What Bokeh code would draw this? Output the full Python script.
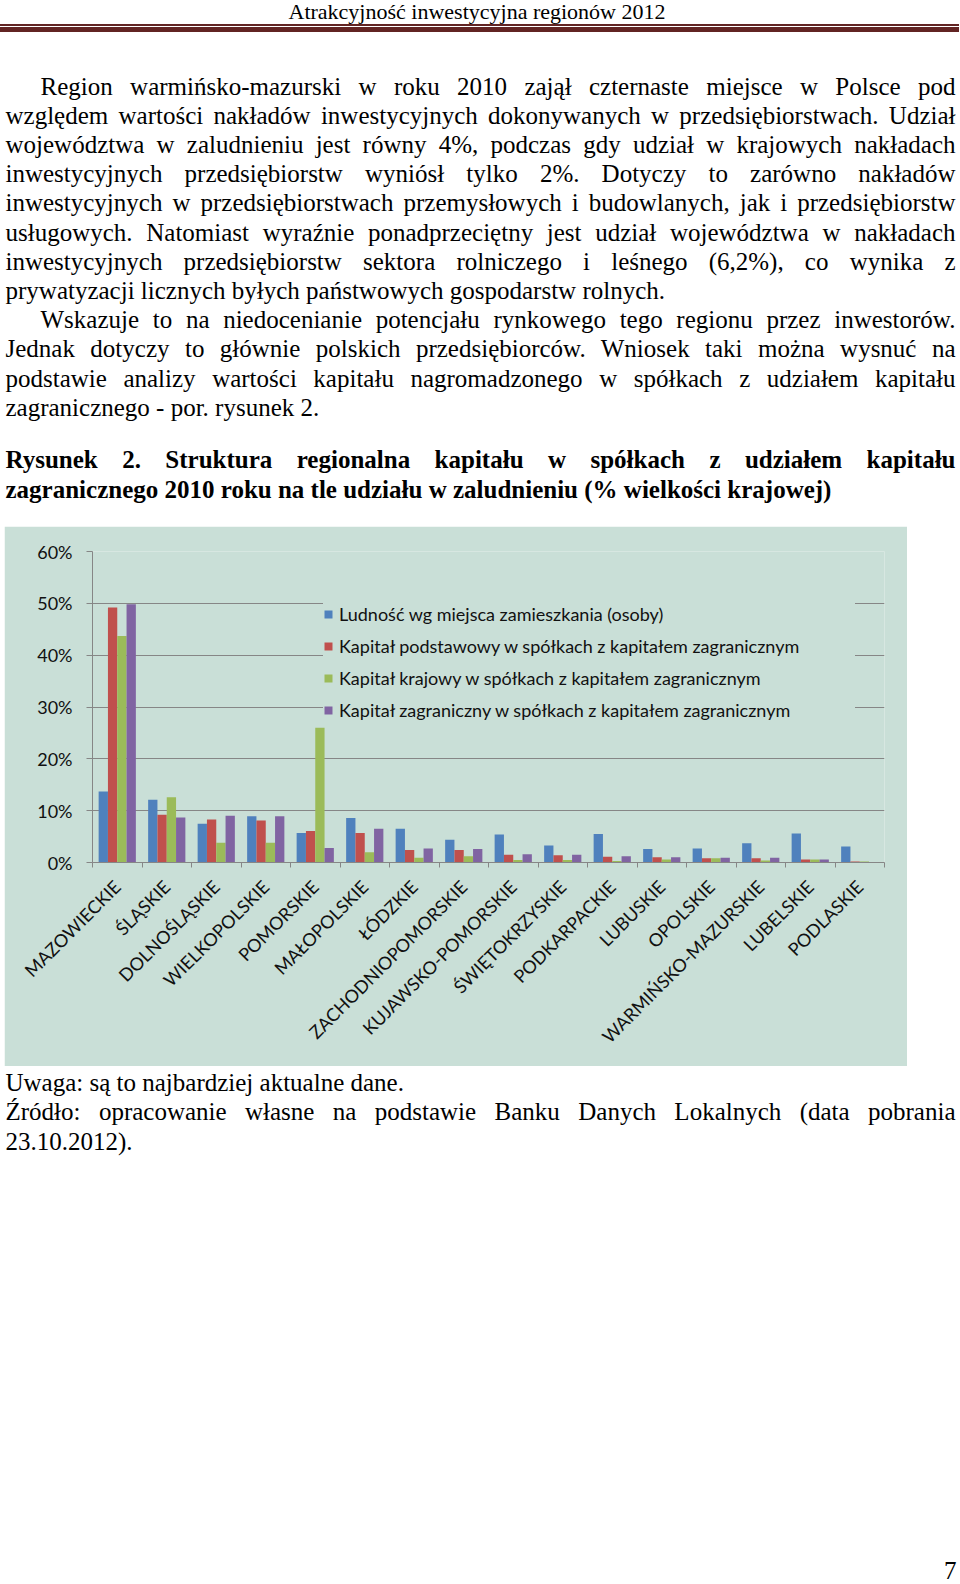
import math
from bokeh.plotting import figure
from bokeh.models import (Range1d, FixedTicker, PrintfTickFormatter, Legend, LegendItem,
                          Div, ColumnDataSource)
from bokeh.transform import dodge
from bokeh.layouts import column
from bokeh.embed import file_html
from bokeh.resources import INLINE

# ---------------- data ----------------
regions = ["MAZOWIECKIE", "ŚLĄSKIE", "DOLNOŚLĄSKIE", "WIELKOPOLSKIE", "POMORSKIE",
           "MAŁOPOLSKIE", "ŁÓDZKIE", "ZACHODNIOPOMORSKIE", "KUJAWSKO-POMORSKIE",
           "ŚWIĘTOKRZYSKIE", "PODKARPACKIE", "LUBUSKIE", "OPOLSKIE",
           "WARMIŃSKO-MAZURSKIE", "LUBELSKIE", "PODLASKIE"]
ludnosc = [13.7, 12.1, 7.5, 8.9, 5.7, 8.6, 6.5, 4.4, 5.4, 3.3, 5.5, 2.6, 2.7, 3.7, 5.6, 3.1]
kap_podstawowy = [49.2, 9.2, 8.3, 8.1, 6.1, 5.7, 2.4, 2.4, 1.5, 1.4, 1.1, 1.0, 0.8, 0.8, 0.6, 0.2]
kap_krajowy = [43.7, 12.6, 3.8, 3.8, 26.0, 2.0, 0.9, 1.2, 0.5, 0.5, 0.3, 0.6, 0.8, 0.4, 0.6, 0.2]
kap_zagraniczny = [49.8, 8.7, 9.0, 8.9, 2.8, 6.5, 2.7, 2.6, 1.6, 1.5, 1.2, 1.0, 0.9, 0.9, 0.6, 0.1]
series_labels = ["Ludność wg miejsca zamieszkania (osoby)",
                 "Kapitał podstawowy w spółkach z kapitałem zagranicznym",
                 "Kapitał krajowy w spółkach z kapitałem zagranicznym",
                 "Kapitał zagraniczny w spółkach z kapitałem zagranicznym"]
y_ticks = [0, 10, 20, 30, 40, 50, 60]

header_text = "Atrakcyjność inwestycyjna regionów 2012"
paragraph_1 = [
    "Region warmińsko-mazurski w roku 2010 zajął czternaste miejsce w Polsce pod",
    "względem wartości nakładów inwestycyjnych dokonywanych w przedsiębiorstwach. Udział",
    "województwa w zaludnieniu jest równy 4%, podczas gdy udział w krajowych nakładach",
    "inwestycyjnych przedsiębiorstw wyniósł tylko 2%. Dotyczy to zarówno nakładów",
    "inwestycyjnych w przedsiębiorstwach przemysłowych i budowlanych, jak i przedsiębiorstw",
    "usługowych. Natomiast wyraźnie ponadprzeciętny jest udział województwa w nakładach",
    "inwestycyjnych przedsiębiorstw sektora rolniczego i leśnego (6,2%), co wynika z",
    "prywatyzacji licznych byłych państwowych gospodarstw rolnych.",
]
paragraph_2 = [
    "Wskazuje to na niedocenianie potencjału rynkowego tego regionu przez inwestorów.",
    "Jednak dotyczy to głównie polskich przedsiębiorców. Wniosek taki można wysnuć na",
    "podstawie analizy wartości kapitału nagromadzonego w spółkach z udziałem kapitału",
    "zagranicznego - por. rysunek 2.",
]
figure_title = [
    "Rysunek 2. Struktura regionalna kapitału w spółkach z udziałem kapitału",
    "zagranicznego 2010 roku na tle udziału w zaludnieniu (% wielkości krajowej)",
]
footer_lines = [
    "Uwaga: są to najbardziej aktualne dane.",
    "Źródło: opracowanie własne na podstawie Banku Danych Lokalnych (data pobrania",
    "23.10.2012).",
]
page_number = "7"

# ---------------- styles ----------------
SERIF = "'Liberation Serif', 'Times New Roman', serif"
SANS = "Lato"
BG = "#C9DFD7"
GRID = "#868686"
COLORS = ["#4F81BD", "#C0504D", "#9BBB59", "#8064A2"]
FS = 25


def line_div(text, x, baseline, width, origin_y, fs=FS, justify=True, bold=False,
             align=None, family=SERIF):
    top = baseline - origin_y - 0.3375 * fs
    left = x - 4.5
    if align is None:
        align = "justify" if justify else "left"
    return (f'<div style="position:absolute;left:{left}px;top:{top:.1f}px;width:{width}px;'
            f'font-family:{family};font-size:{fs}px;line-height:0;'
            f'font-weight:{"bold" if bold else "normal"};color:#000;'
            f'text-align:{align};text-align-last:{align};">{text}</div>')


# ---- top div ----
TOP_H = 516
ORIG_TOP = 8
parts = []
parts.append(line_div(header_text, -3.5, 22, 960, ORIG_TOP, fs=22, align="center"))
parts.append(f'<div style="position:absolute;left:-8px;top:{27-ORIG_TOP}px;width:962px;height:1.5px;background:#622423;"></div>')
parts.append(f'<div style="position:absolute;left:-8px;top:{30-ORIG_TOP}px;width:962px;height:5px;background:#622423;"></div>')
pitch = 29.2
b0 = 98.0
lines = []
for i, t in enumerate(paragraph_1):
    lines.append((t, 40 if i == 0 else 5, i < len(paragraph_1) - 1))
for i, t in enumerate(paragraph_2):
    lines.append((t, 40 if i == 0 else 5, i < len(paragraph_2) - 1))
for i, (t, x, just) in enumerate(lines):
    parts.append(line_div(t, x, b0 + pitch * i, 955 - x, ORIG_TOP, justify=just))
parts.append(line_div(figure_title[0], 5, 471, 950, ORIG_TOP, justify=True, bold=True))
parts.append(line_div(figure_title[1], 5, 501, 950, ORIG_TOP, justify=False, bold=True))
top_html = f'<div style="position:relative;width:944px;height:{TOP_H}px;">' + "".join(parts) + "</div>"
top_div = Div(text=top_html, width=944, height=TOP_H, styles={"overflow": "visible"})

# ---------------- chart ----------------
src = ColumnDataSource(dict(
    x=[i + 0.5 for i in range(len(regions))],
    ludnosc=ludnosc, podst=kap_podstawowy, kraj=kap_krajowy, zagr=kap_zagraniczny,
))

p = figure(width=903, height=540, x_range=Range1d(0, len(regions)), y_range=Range1d(0, 60),
           output_backend="svg", toolbar_location=None,
           min_border_left=88, min_border_right=23, min_border_top=25, min_border_bottom=204)
p.margin = (0, 0, 0, 4)
p.background_fill_color = BG
p.border_fill_color = BG
p.outline_line_color = None

bw = 0.188
offsets = [-1.5 * bw, -0.5 * bw, 0.5 * bw, 1.5 * bw]
renderers = []
for col, off, colr in zip(["ludnosc", "podst", "kraj", "zagr"], offsets, COLORS):
    r = p.vbar(x=dodge("x", off, range=p.x_range), top=col, width=bw, bottom=0,
               source=src, fill_color=colr, line_color=None)
    renderers.append(r)

# axes
p.xgrid.visible = False
p.ygrid.ticker = FixedTicker(ticks=y_ticks)
p.ygrid.grid_line_color = GRID
p.ygrid.grid_line_width = 1

p.yaxis.ticker = FixedTicker(ticks=y_ticks)
p.yaxis.formatter = PrintfTickFormatter(format="%d%%")
p.yaxis.axis_line_color = GRID
p.yaxis.major_tick_line_color = GRID
p.yaxis.major_tick_out = 6
p.yaxis.major_tick_in = 0
p.yaxis.minor_tick_line_color = None
p.yaxis.major_label_standoff = 14
p.yaxis.major_label_text_font = SANS
p.yaxis.major_label_text_font_size = "18px"
p.yaxis.major_label_text_color = "#111111"

p.xaxis.ticker = FixedTicker(ticks=[i + 0.5 for i in range(len(regions))],
                             minor_ticks=list(range(len(regions) + 1)))
p.xaxis.major_label_overrides = {i + 0.5: name for i, name in enumerate(regions)}
p.xaxis.major_label_orientation = math.pi / 4
p.xaxis.axis_line_color = GRID
p.xaxis.major_tick_out = 0
p.xaxis.major_tick_in = 0
p.xaxis.minor_tick_out = 5
p.xaxis.minor_tick_in = 0
p.xaxis.minor_tick_line_color = GRID
p.xaxis.major_label_standoff = 16
p.xaxis.major_label_text_font = SANS
p.xaxis.major_label_text_font_size = "18px"
p.xaxis.major_label_text_color = "#111111"

legend = Legend(items=[LegendItem(label=lab, renderers=[r]) for lab, r in zip(series_labels, renderers)],
                location=(231, 141))
legend.label_text_font = SANS
legend.label_text_font_size = "18px"
legend.label_text_color = "#111111"
legend.glyph_width = 10
legend.glyph_height = 10
legend.label_standoff = 6
legend.label_height = 22
legend.label_width = 516
legend.spacing = 10
legend.padding = 10
legend.margin = 0
legend.background_fill_color = BG
legend.background_fill_alpha = 1
legend.border_line_color = None
p.add_layout(legend)

# ---- bottom div ----
BOT_Y = 1067
BOT_H = 1576 - TOP_H - 540 - 8
bparts = []
bparts.append(line_div(footer_lines[0], 5, 1087, 950, BOT_Y, justify=False))
bparts.append(line_div(footer_lines[1], 5, 1116.6, 950, BOT_Y, justify=True))
bparts.append(line_div(footer_lines[2], 5, 1146, 950, BOT_Y, justify=False))
bparts.append(line_div(page_number, 900, 1575, 56, BOT_Y, justify=False, align="right"))
bot_html = f'<div style="position:relative;width:944px;height:{BOT_H}px;">' + "".join(bparts) + "</div>"
bot_div = Div(text=bot_html, width=944, height=BOT_H, styles={"overflow": "visible"})

layout = column(top_div, p, bot_div, spacing=0)
open("out.html", "w").write(file_html(layout, INLINE))
